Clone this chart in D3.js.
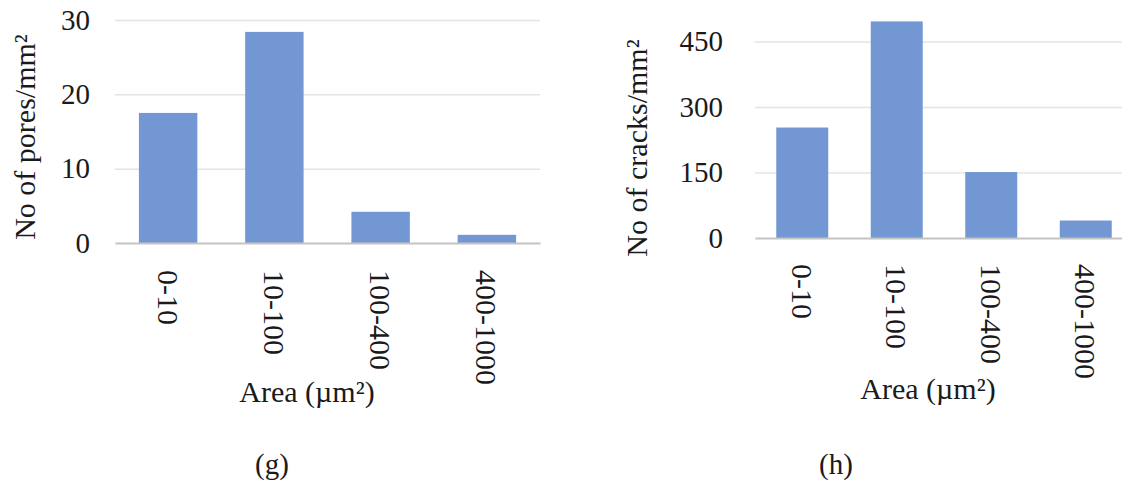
<!DOCTYPE html>
<html>
<head>
<meta charset="utf-8">
<script src="https://cdn.jsdelivr.net/npm/d3@7"></script>
<style>
  body { margin: 0; background: #fff; }
  svg text { font-family: 'Liberation Serif', Tinos, 'Times New Roman', Times, 'Nimbus Roman', 'DejaVu Serif', serif; fill: #1a1a1a; }
</style>
</head>
<body>
<svg id="chart" width="1122" height="489"></svg>
<script>
// Data
const categories = ['0-10', '10-100', '100-400', '400-1000'];
const poresValues = [17.5, 28.4, 4.2, 1.1];
const cracksValues = [253, 496, 151, 40];
const poresTicks = [0, 10, 20, 30];
const cracksTicks = [0, 150, 300, 450];

const barColor = '#7297d3';
const svg = d3.select('#chart');

function drawPanel(opts) {
  const g = svg.append('g');

  const x = d3.scaleBand()
    .domain(categories)
    .range(opts.xRange)
    .paddingInner(0.45)
    .paddingOuter(0.225);

  const y = d3.scaleLinear()
    .domain([0, opts.ticks[opts.ticks.length - 1]])
    .range(opts.yRange);

  // Gridlines + y tick labels
  const yAxis = g.append('g')
    .attr('transform', `translate(${opts.xRange[0]},0)`)
    .call(d3.axisLeft(y)
      .tickValues(opts.ticks)
      .tickSize(-(opts.xRange[1] - opts.xRange[0]))
      .tickPadding(opts.tickPad)
      .tickFormat(d3.format('d')));
  yAxis.attr('font-family', null);
  yAxis.select('.domain').remove();
  yAxis.selectAll('line').attr('stroke', '#e4e4e4').attr('stroke-width', 1.5);
  yAxis.selectAll('text')
    .style('font-size', '29px')
    .attr('fill', '#1a1a1a');
  yAxis.selectAll('.tick').filter(d => d === 0).select('line').remove();

  // Bars
  g.selectAll('.bar')
    .data(opts.values)
    .enter()
    .append('rect')
    .attr('class', 'bar')
    .attr('x', (d, i) => x(categories[i]))
    .attr('width', x.bandwidth())
    .attr('y', d => y(d))
    .attr('height', d => y(0) - y(d))
    .attr('fill', barColor);

  // x axis baseline and rotated category labels
  const xAxis = g.append('g')
    .attr('transform', `translate(0,${y(0)})`)
    .call(d3.axisBottom(x).tickSize(0).tickPadding(0));
  xAxis.attr('font-family', null);
  xAxis.select('.domain').attr('stroke', '#c4c4c4').attr('stroke-width', 2);
  xAxis.selectAll('text')
    .style('font-size', '30px')
    .attr('fill', '#1a1a1a')
    .attr('text-anchor', 'start')
    .attr('transform', `translate(0,${opts.labelGap}) rotate(90)`)
    .attr('x', 0)
    .attr('y', 0)
    .attr('dy', '0.35em');

  // Axis titles
  g.append('text')
    .attr('transform', `translate(${opts.yTitle[0]},${opts.yTitle[1]}) rotate(-90)`)
    .attr('text-anchor', 'middle')
    .attr('dy', '0.35em')
    .style('font-size', '30px')
    .text(opts.yLabel);

  g.append('text')
    .attr('x', opts.xTitle[0])
    .attr('y', opts.xTitle[1])
    .attr('text-anchor', 'middle')
    .style('font-size', '30px')
    .text('Area (\u00b5m\u00b2)');

  // Panel caption
  g.append('text')
    .attr('x', opts.caption[0])
    .attr('y', opts.caption[1])
    .attr('text-anchor', 'middle')
    .style('font-size', '29px')
    .text(opts.captionText);
}

drawPanel({
  values: poresValues,
  ticks: poresTicks,
  xRange: [115, 540],
  yRange: [243, 20],
  tickPad: 25,
  labelGap: 27,
  yLabel: 'No of pores/mm\u00b2',
  yTitle: [24, 137],
  xTitle: [307, 402],
  caption: [272, 474],
  captionText: '(g)'
});

drawPanel({
  values: cracksValues,
  ticks: cracksTicks,
  xRange: [755, 1133],
  yRange: [238, 41.5],
  tickPad: 32,
  labelGap: 26,
  yLabel: 'No of cracks/mm\u00b2',
  yTitle: [636, 148],
  xTitle: [928, 399],
  caption: [836, 474],
  captionText: '(h)'
});
</script>
</body>
</html>
